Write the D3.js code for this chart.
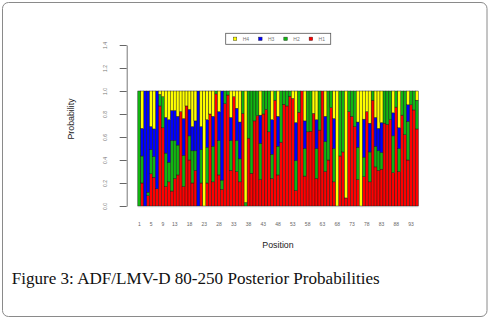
<!DOCTYPE html>
<html>
<head>
<meta charset="utf-8">
<script src="https://cdn.jsdelivr.net/npm/d3@7"></script>
<style>
  body { margin: 0; background: #fff; }
  svg { display: block; font-family: "Liberation Sans", Arial, sans-serif; }
</style>
</head>
<body>
<svg id="chart" width="490" height="317"></svg>
<script>
// posterior probabilities per position (H1 bottom ... H4 top)
const positions = d3.range(1, 96);
const shownLabels = [1, 5, 9, 13, 18, 23, 28, 33, 38, 43, 48, 53, 58, 63, 68, 73, 78, 83, 88, 93];
const yTicks = [0, 0.2, 0.4, 0.6, 0.8, 1.0, 1.2, 1.4];
const keys = ["H1", "H2", "H3", "H4"];
const legendOrder = ["H4", "H3", "H2", "H1"];

const h1 = [0,.20,0,.09,.28,.25,.15,.87,.68,.17, .21,.13,.24,.27,.82,.17,.87,.40,.20,.31,
  0,.20,0,.20,.80,.21,.975,.27,.145,.89, .965,.31,.95,.30,.21,.805,0,.59,.285,.74,
  .785,.23,.80,.84,.645,.24,.92,.27,.555,.885, .87,.955,.935,.135,.815,1,.26,.645,.65,.805,
  .24,.66,1,.30,.40,.855,.21,0,.435,.47, .07,.82,.78,.69,.23,0,.255,.82,.21,.92,
  .34,.31,.32,.72,.71,.75,.29,.86,.30,.79, .62,.40,.88,.835,.67];
const h2 = [1,.235,0,.03,.21,.18,0,.10,.27,.29, .17,.44,.33,.26,0,.27,0,.21,.28,.17,
  0,.29,0,.31,0,.31,.025,.30,.08,.11, .035,.26,0,.27,.20,.195,.03,.41,.715,.26,
  .215,.315,.20,.16,.355,.21,.08,.25,.445,.115, .13,.045,0,.26,.185,0,.24,.355,.35,0,
  .26,.34,0,.26,.60,.145,.29,0,.565,.53, 0,.18,.22,.31,.28,0,.17,0,.26,.08,
  .18,.17,.145,.28,.29,.25,.32,.14,.20,.21, .38,.335,.12,.165,.25];
const h3 = [0,.24,1,.88,.20,.24,.85,0,0,.31, .37,.26,.26,.25,0,.32,0,.23,.21,.26,
  1,.20,0,.24,0,.26,0,.25,.775,0, 0,.20,0,.28,.32,0,0,0,0,0,
  0,.245,0,0,0,.30,0,.26,0,0, 0,0,0,.33,0,0,.24,0,0,0,
  .25,0,0,.22,0,0,.26,0,0,0, 0,0,0,0,.22,0,.33,0,.25,0,
  .25,.195,.26,0,0,0,.20,0,.18,0, 0,.145,0,0,0];
const h4 = [0,.325,0,0,.31,.33,0,.03,.05,.23, .25,.17,.17,.22,.18,.24,.13,.16,.31,.26,
  0,.31,1,.25,.20,.22,0,.18,0,0, 0,.23,.05,.15,.27,0,.97,0,0,0,
  0,.21,0,0,0,.25,0,.22,0,0, 0,0,.065,.275,0,0,.26,0,0,.195,
  .25,0,0,.22,0,0,.24,1,0,0, .93,0,0,0,.27,1,.245,.18,.28,0,
  .23,.325,.275,0,0,0,.19,0,.32,0, 0,.12,0,0,.08];

const COLORS = { H1: "#ff0000", H2: "#11b511", H3: "#0000ff", H4: "#ffff00" };

const rows = positions.map((p, i) => ({ pos: p, H1: h1[i], H2: h2[i], H3: h3[i], H4: h4[i] }));

const svg = d3.select("#chart");

// frame round the figure
svg.append("rect").attr("x", 2.5).attr("y", 2.5).attr("width", 484.5).attr("height", 314)
    .attr("rx", 6).attr("fill", "none").attr("stroke", "#8a8a8a").attr("stroke-width", 1);

// SCALES
const x = d3.scaleBand().domain(positions).range([137.8, 418.4]).padding(0);
const y = d3.scaleLinear().domain([0, 1.4]).range([206, 45]);

// bars
const series = d3.stack().keys(keys)(rows);
svg.append("g").selectAll("g").data(series).join("g")
    .attr("fill", s => COLORS[s.key])
  .selectAll("rect").data(s => s).join("rect")
    .attr("x", d => x(d.data.pos))
    .attr("width", x.bandwidth())
    .attr("y", d => y(Math.min(d[1], 1)))
    .attr("height", d => Math.max(0, y(d[0]) - y(Math.min(d[1], 1))))
    .attr("stroke", "#1a1a1a").attr("stroke-width", 0.45);

svg.append("line").attr("x1", 137.8).attr("x2", 418.4).attr("y1", 206.7).attr("y2", 206.7)
    .attr("stroke", "#bbb").attr("stroke-width", 0.8);

// AXES
const yAxis = svg.append("g").attr("transform", "translate(126.7,0)")
    .call(d3.axisLeft(y).tickValues(yTicks).tickSize(7).tickSizeOuter(0).tickFormat(d3.format(".1f")));
yAxis.select(".domain").attr("stroke", "#777");
yAxis.selectAll(".tick line").attr("stroke", "#666");
yAxis.selectAll(".tick text")
    .attr("transform", "rotate(-90)").attr("x", 0).attr("y", -21.7).attr("dy", "0.35em")
    .attr("text-anchor", "middle").attr("font-size", 5).attr("fill", "#777");

const xAxis = svg.append("g").attr("transform", "translate(0,218)")
    .call(d3.axisBottom(x).tickValues(shownLabels).tickSize(0).tickPadding(4));
xAxis.select(".domain").remove();
xAxis.selectAll(".tick text").attr("font-size", 5).attr("fill", "#666");

svg.append("text").attr("x", 278).attr("y", 248).attr("text-anchor", "middle")
    .attr("font-size", 8.8).attr("fill", "#222").text("Position");
svg.append("text").attr("transform", "translate(74,119) rotate(-90)").attr("text-anchor", "middle")
    .attr("font-size", 8.8).attr("fill", "#222").text("Probability");

// legend
const legend = svg.append("g").attr("transform", "translate(225.7,33.3)");
legend.append("rect").attr("width", 105).attr("height", 11)
    .attr("fill", "#fff").attr("stroke", "#555").attr("stroke-width", 0.8);
legendOrder.forEach((k, i) => {
  const g = legend.append("g").attr("transform", `translate(${7.5 + i * 25.3},0)`);
  g.append("rect").attr("x", 0).attr("y", 3.8).attr("width", 3.6).attr("height", 3.4)
      .attr("fill", COLORS[k]).attr("stroke", "#222").attr("stroke-width", 0.4);
  g.append("text").attr("x", 9.5).attr("y", 7.3).attr("font-size", 5).attr("fill", "#777").text(k);
});

// caption
svg.append("text").attr("x", 11.7).attr("y", 284)
    .attr("font-family", "'Liberation Serif', 'DejaVu Serif', serif")
    .attr("font-size", 16.2).attr("fill", "#111")
    .attr("textLength", 368).attr("lengthAdjust", "spacingAndGlyphs")
    .text("Figure 3: ADF/LMV-D 80-250 Posterior Probabilities");
</script>
</body>
</html>
